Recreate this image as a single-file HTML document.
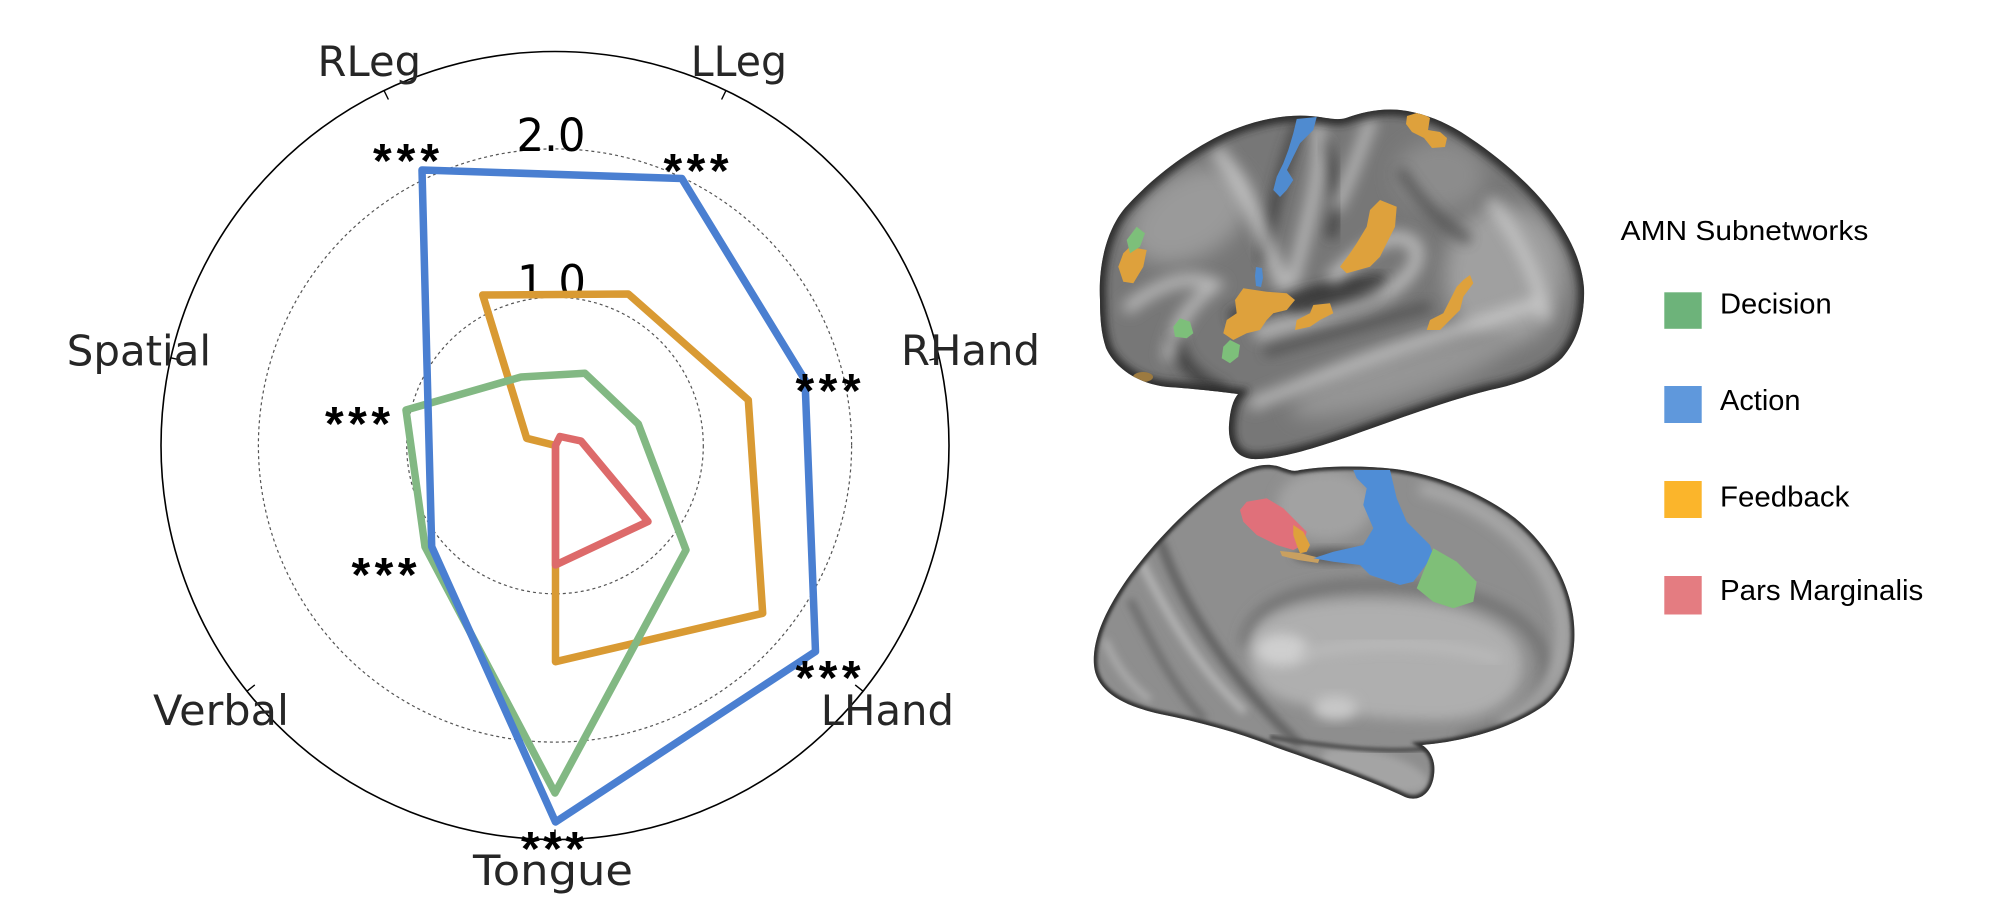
<!DOCTYPE html>
<html>
<head>
<meta charset="utf-8">
<style>
  html,body{margin:0;padding:0;background:#fff;}
  body{width:2000px;height:915px;overflow:hidden;}
  svg{display:block;}
</style>
</head>
<body>
<svg width="2000" height="915" viewBox="0 0 2000 915" xmlns="http://www.w3.org/2000/svg">
<defs>
  <filter id="b2" x="-20%" y="-20%" width="140%" height="140%"><feGaussianBlur stdDeviation="1.5"/></filter>
  <filter id="b4" x="-30%" y="-30%" width="160%" height="160%"><feGaussianBlur stdDeviation="4"/></filter>
  <filter id="b6" x="-30%" y="-30%" width="160%" height="160%"><feGaussianBlur stdDeviation="6"/></filter>
  <filter id="b8" x="-30%" y="-30%" width="160%" height="160%"><feGaussianBlur stdDeviation="7"/></filter>
  <filter id="b10" x="-30%" y="-30%" width="160%" height="160%"><feGaussianBlur stdDeviation="10"/></filter>
  <clipPath id="cu">
    <path d="M1100,300 C1098,262 1108,228 1125,208 C1150,180 1185,152 1225,133 C1255,120 1285,114 1310,116 C1325,117 1336,121 1346,118 C1362,112 1382,108 1400,110 C1426,113 1450,124 1470,138 C1500,158 1530,184 1550,210 C1570,236 1582,262 1584,288 C1585,315 1578,340 1562,358 C1545,375 1515,385 1490,390 C1450,400 1400,418 1350,436 C1310,450 1275,460 1252,459 C1234,457 1228,442 1229,425 C1230,410 1233,400 1238,394 C1222,392 1198,389 1168,387 C1138,384 1115,368 1106,348 C1101,333 1100,318 1100,300 Z"/>
  </clipPath>
  <clipPath id="cl">
    <path d="M1283,468 C1270,462 1252,465 1235,475 C1200,495 1160,535 1130,575 C1105,610 1092,640 1094,665 C1096,690 1120,705 1160,714 C1200,722 1240,733 1275,747 C1320,763 1370,780 1405,797 C1420,803 1432,792 1434,775 C1436,760 1430,750 1422,745 C1460,742 1510,730 1545,705 C1570,685 1578,650 1573,615 C1568,580 1548,545 1515,518 C1485,495 1440,475 1395,469 C1360,465 1325,466 1300,470 C1293,472 1290,470 1283,468 Z"/>
  </clipPath>
</defs>

<rect x="0" y="0" width="2000" height="915" fill="#ffffff"/>

<!-- ================= RADAR CHART ================= -->
<g fill="none">
  <circle cx="555" cy="445.5" r="148.3" stroke="#555" stroke-width="1.2" stroke-dasharray="3,3"/>
  <circle cx="555" cy="445.5" r="296.6" stroke="#555" stroke-width="1.2" stroke-dasharray="3,3"/>
  <circle cx="555" cy="445.5" r="394" stroke="#000" stroke-width="1.6"/>
  <g stroke="#000" stroke-width="1.4">
    <line x1="555" y1="839.5" x2="555" y2="829.5"/>
    <line x1="863.0" y1="691.2" x2="855.2" y2="684.9"/>
    <line x1="939.1" y1="357.8" x2="929.4" y2="360.1"/>
    <line x1="726.0" y1="90.5" x2="721.6" y2="99.5"/>
    <line x1="384.0" y1="90.5" x2="388.4" y2="99.5"/>
    <line x1="170.9" y1="357.8" x2="180.6" y2="360.1"/>
    <line x1="247.0" y1="691.2" x2="254.8" y2="684.9"/>
  </g>
</g>

<g font-family="'DejaVu Sans', 'Liberation Sans', sans-serif" font-size="45" fill="#000" text-anchor="middle">
  <text x="551" y="151" textLength="69" lengthAdjust="spacingAndGlyphs">2.0</text>
  <text x="551.5" y="297.5" textLength="69" lengthAdjust="spacingAndGlyphs">1.0</text>
</g>

<g fill="none" stroke-width="7.5" stroke-linejoin="round" stroke-linecap="round">
  <polygon points="482.7,295 628.3,294 748.3,400 762.7,613.3 555.5,661.7 555.5,445.5 526.7,438.3" stroke="#d99a33"/>
  <polygon points="521,377 585,373.3 638.3,424 686,550 555,793 425,546.7 406,410" stroke="#82b883"/>
  <polygon points="555.5,445.5 560,436.5 581,441 648,521.5 555.5,565" stroke="#dd6a6a"/>
  <polygon points="422,170 681.8,178.5 805,380 815.5,651.5 555.5,822 431.7,546.7 428.3,416.6" stroke="#4a7fd1"/>
</g>

<g font-family="'Liberation Sans', Arial, sans-serif" font-size="48" font-weight="bold" fill="#000" text-anchor="middle">
  <text x="406" y="177" textLength="66" lengthAdjust="spacing">***</text>
  <text x="696" y="187" textLength="65" lengthAdjust="spacing">***</text>
  <text x="828" y="407" textLength="65" lengthAdjust="spacing">***</text>
  <text x="828" y="694" textLength="65" lengthAdjust="spacing">***</text>
  <text x="552.5" y="865" textLength="63" lengthAdjust="spacing">***</text>
  <text x="357.5" y="440" textLength="65" lengthAdjust="spacing">***</text>
  <text x="384" y="591" textLength="65" lengthAdjust="spacing">***</text>
</g>

<g font-family="'DejaVu Sans', 'Liberation Sans', sans-serif" font-size="42" fill="#262626" text-anchor="middle">
  <text x="369.3" y="76" textLength="103.5" lengthAdjust="spacingAndGlyphs">RLeg</text>
  <text x="738.9" y="76" textLength="96.3" lengthAdjust="spacingAndGlyphs">LLeg</text>
  <text x="970.5" y="365" textLength="139" lengthAdjust="spacingAndGlyphs">RHand</text>
  <text x="887.4" y="725" textLength="133.2" lengthAdjust="spacingAndGlyphs">LHand</text>
  <text x="138.9" y="365.7" textLength="144.3" lengthAdjust="spacingAndGlyphs">Spatial</text>
  <text x="221" y="725" textLength="136" lengthAdjust="spacingAndGlyphs">Verbal</text>
  <text x="553" y="885" textLength="160" lengthAdjust="spacingAndGlyphs">Tongue</text>
</g>

<!-- ================= UPPER BRAIN (lateral) ================= -->
<g clip-path="url(#cu)">
  <rect x="1090" y="100" width="500" height="370" fill="#777777"/>
  <!-- broad light regions -->
  <ellipse cx="1190" cy="215" rx="65" ry="42" transform="rotate(-30 1190 215)" fill="#9a9a9a" filter="url(#b10)"/>
  <ellipse cx="1505" cy="275" rx="60" ry="70" fill="#a0a0a0" filter="url(#b10)"/>
  <ellipse cx="1400" cy="375" rx="115" ry="24" transform="rotate(-18 1400 375)" fill="#959595" filter="url(#b10)"/>
  <ellipse cx="1440" cy="175" rx="45" ry="35" fill="#8c8c8c" filter="url(#b10)"/>
  <!-- dark sulci -->
  <path d="M1230,318 C1270,305 1320,292 1385,280" stroke="#333" stroke-width="14" fill="none" filter="url(#b6)" opacity="0.85"/>
  <ellipse cx="1335" cy="300" rx="48" ry="14" transform="rotate(-10 1335 300)" fill="#3a3a3a" filter="url(#b6)"/>
  <path d="M1300,122 C1285,160 1275,200 1262,262" stroke="#3c3c3c" stroke-width="12" fill="none" filter="url(#b6)" opacity="0.8"/>
  <path d="M1322,140 C1340,180 1338,215 1330,238" stroke="#3c3c3c" stroke-width="12" fill="none" filter="url(#b6)" opacity="0.8"/>
  <path d="M1175,335 C1178,360 1195,380 1225,392" stroke="#3a3a3a" stroke-width="14" fill="none" filter="url(#b6)" opacity="0.85"/>
  <path d="M1265,352 C1320,337 1380,320 1430,306" stroke="#4c4c4c" stroke-width="10" fill="none" filter="url(#b6)" opacity="0.8"/>
  <path d="M1400,170 C1420,200 1440,225 1470,240" stroke="#4e4e4e" stroke-width="10" fill="none" filter="url(#b6)" opacity="0.8"/>
  <!-- light ridges -->
  <g stroke="#d8d8d8" fill="none" filter="url(#b8)" opacity="0.7">
    <path d="M1215,150 C1240,175 1262,230 1285,290" stroke-width="14"/>
    <path d="M1318,125 C1325,170 1305,230 1292,285" stroke-width="12"/>
    <path d="M1330,280 C1360,250 1395,225 1415,245 C1425,265 1400,290 1360,305 C1320,318 1280,325 1255,335" stroke-width="13"/>
    <path d="M1250,405 C1300,385 1380,352 1450,332 C1490,320 1520,308 1545,302" stroke-width="12"/>
    <path d="M1125,310 C1150,290 1185,270 1215,285 C1195,300 1175,320 1168,360" stroke-width="12"/>
    <path d="M1372,118 C1360,150 1350,180 1335,210" stroke-width="11"/>
    <path d="M1490,200 C1520,240 1540,280 1545,320" stroke-width="11"/>
  </g>
  <!-- rim darkening -->
  <path d="M1100,300 C1098,262 1108,228 1125,208 C1150,180 1185,152 1225,133 C1255,120 1285,114 1310,116 C1325,117 1336,121 1346,118 C1362,112 1382,108 1400,110 C1426,113 1450,124 1470,138 C1500,158 1530,184 1550,210 C1570,236 1582,262 1584,288 C1585,315 1578,340 1562,358 C1545,375 1515,385 1490,390 C1450,400 1400,418 1350,436 C1310,450 1275,460 1252,459 C1234,457 1228,442 1229,425 C1230,410 1233,400 1238,394 C1222,392 1198,389 1168,387 C1138,384 1115,368 1106,348 C1101,333 1100,318 1100,300 Z" fill="none" stroke="#2a2a2a" stroke-width="12" filter="url(#b4)"/>

  <!-- colored patches -->
  <g fill="#dea13c">
    <polygon points="1407,116 1420,112 1430,118 1428,130 1440,132 1447,138 1445,147 1432,148 1424,138 1412,132 1406,124"/>
    <polygon points="1380,200 1396.7,206.7 1395,226.7 1386.7,243.3 1380,256.7 1370,266.7 1346.7,273.3 1340,266.7 1350,253.3 1356.7,243.3 1366.7,226.7 1370,210"/>
    <polygon points="1243.3,288.3 1266.7,291.7 1286.7,293.3 1295,300 1286.7,310 1273.3,313.3 1266.7,320 1260,330 1246.7,333.3 1233.3,340 1223.3,333.3 1226.7,320 1236.7,313.3 1235,300"/>
    <polygon points="1313.3,305 1330,303.3 1333.3,313.3 1320,320 1310,326.7 1295,330 1296.7,320 1310,313.3"/>
    <polygon points="1470,275 1473.3,283.3 1463.3,296.7 1460,310 1450,320 1440,330 1426.7,330 1430,320 1443.3,313.3 1450,300 1456.7,286.7 1463.3,280"/>
    <polygon points="1130,246.7 1146.7,250 1143.3,266.7 1133.3,283.3 1123.3,281.7 1118.3,266.7 1123.3,253.3"/>
  </g>
  <ellipse cx="1143" cy="377" rx="10" ry="5" fill="#9c7a40"/>
  <g fill="#4f8bd0">
    <polygon points="1296.7,119 1316.7,117 1313.3,130 1300,143.3 1293.3,156.7 1287,170 1293.3,180 1286.7,190 1280,197 1273.3,190 1276.7,176.7 1283.3,163.3 1288.3,150 1293.3,133.3"/>
    <polygon points="1256,267 1262,268 1263,278 1261,287 1256,286 1255,276"/>
  </g>
  <g fill="#7dbf7a">
    <polygon points="1136.7,226.7 1145,233.3 1140,246.7 1130,253.3 1126.7,240"/>
    <polygon points="1180,318.3 1190,321.7 1193.3,333.3 1186.7,338.3 1175,336.7 1173.3,326.7"/>
    <polygon points="1230,340 1240,345 1238.3,356.7 1230,363.3 1221.7,358.3 1223.3,346.7"/>
  </g>
</g>

<!-- ================= LOWER BRAIN (medial) ================= -->
<g clip-path="url(#cl)">
  <rect x="1085" y="455" width="500" height="360" fill="#8e8e8e"/>
  <!-- top bump (paracentral) -->
  <ellipse cx="1325" cy="505" rx="48" ry="35" fill="#a2a2a2" filter="url(#b6)"/>
  <ellipse cx="1335" cy="556" rx="42" ry="8" fill="#5e5e5e" filter="url(#b4)"/>
  <!-- cingulate groove -->
  <path d="M1245,645 C1250,600 1310,582 1390,585 C1470,588 1535,612 1545,660 C1550,700 1515,730 1460,738" stroke="#6e6e6e" stroke-width="10" fill="none" filter="url(#b6)"/>
  <!-- inner light region -->
  <path d="M1250,642 C1255,612 1305,598 1382,600 C1460,603 1518,622 1522,660 C1525,698 1490,718 1440,720 C1380,720 1322,712 1285,700 C1258,690 1246,668 1250,642 Z" fill="#afafaf" filter="url(#b6)"/>
  <ellipse cx="1282" cy="650" rx="26" ry="16" fill="#cfcfcf" filter="url(#b6)"/>
  <ellipse cx="1335" cy="708" rx="22" ry="12" fill="#c8c8c8" filter="url(#b6)"/>
  <path d="M1300,655 C1360,640 1440,640 1500,660" stroke="#bdbdbd" stroke-width="8" fill="none" filter="url(#b6)"/>
  <!-- outer rim highlight on right -->
  <path d="M1420,488 C1490,505 1545,550 1560,610 C1570,660 1550,700 1500,725" stroke="#b0b0b0" stroke-width="10" fill="none" filter="url(#b6)"/>
  <!-- occipital folds -->
  <path d="M1160,540 C1180,600 1230,680 1300,745" stroke="#606060" stroke-width="9" fill="none" filter="url(#b4)"/>
  <path d="M1130,600 C1150,640 1175,690 1205,720" stroke="#6a6a6a" stroke-width="7" fill="none" filter="url(#b4)"/>
  <path d="M1140,560 C1170,620 1200,670 1245,712" stroke="#b8b8b8" stroke-width="7" fill="none" filter="url(#b4)"/>
  <path d="M1105,640 C1115,665 1130,685 1150,700" stroke="#b0b0b0" stroke-width="6" fill="none" filter="url(#b4)"/>
  <!-- bottom lobe -->
  <ellipse cx="1375" cy="770" rx="55" ry="18" transform="rotate(15 1375 770)" fill="#a4a4a4" filter="url(#b4)"/>
  <path d="M1270,737 C1330,747 1390,754 1428,748" stroke="#555" stroke-width="5" fill="none" filter="url(#b2)"/>
  <!-- rim -->
  <path d="M1283,468 C1270,462 1252,465 1235,475 C1200,495 1160,535 1130,575 C1105,610 1092,640 1094,665 C1096,690 1120,705 1160,714 C1200,722 1240,733 1275,747 C1320,763 1370,780 1405,797 C1420,803 1432,792 1434,775 C1436,760 1430,750 1422,745 C1460,742 1510,730 1545,705 C1570,685 1578,650 1573,615 C1568,580 1548,545 1515,518 C1485,495 1440,475 1395,469 C1360,465 1325,466 1300,470 C1293,472 1290,470 1283,468 Z" fill="none" stroke="#303030" stroke-width="7" filter="url(#b2)"/>

  <!-- colored patches -->
  <polygon points="1246.7,501.7 1266.7,498.3 1283.3,508.3 1296.7,521.7 1306.7,531.7 1303.3,545 1293.3,550 1276.7,545 1256.7,535 1243.3,521.7 1240,510" fill="#e0707a"/>
  <polygon points="1293.3,525 1303.3,531.7 1310,545 1306.7,551.7 1300,553.3 1296.7,545 1293.3,535" fill="#dea13c"/>
  <polygon points="1280,551 1300,553 1320,558 1318,563 1298,560 1282,556" fill="#c9a060"/>
  <polygon points="1353.3,470 1390,470 1396.7,498.3 1406.7,521.7 1430,545 1433.3,555 1413.3,581.7 1400,585 1370,575 1360,565 1333.3,561.7 1313.3,558.3 1333.3,551.7 1363.3,545 1373.3,528.3 1363.3,505 1366.7,488.3 1356.7,478.3" fill="#4f8dd6"/>
  <polygon points="1433.3,548.3 1456.7,561.7 1476.7,581.7 1473.3,601.7 1453.3,608.3 1433.3,601.7 1416.7,588.3 1423.3,571.7" fill="#7fbf78"/>
</g>

<!-- ================= LEGEND ================= -->
<g font-family="'Liberation Sans', Arial, sans-serif" fill="#000">
  <text x="1620.7" y="240" font-size="28" textLength="247.6" lengthAdjust="spacingAndGlyphs">AMN Subnetworks</text>
  <rect x="1664.3" y="292.3" width="37.4" height="36.5" fill="#6db37a"/>
  <rect x="1664.3" y="386" width="37.4" height="37" fill="#5f98dc"/>
  <rect x="1664.3" y="481" width="37.4" height="37" fill="#fbb52b"/>
  <rect x="1664.3" y="576" width="37.4" height="38.5" fill="#e47c81"/>
  <text x="1720" y="313.3" font-size="29" textLength="111.7" lengthAdjust="spacingAndGlyphs">Decision</text>
  <text x="1720" y="410" font-size="29" textLength="80.5" lengthAdjust="spacingAndGlyphs">Action</text>
  <text x="1720" y="506.7" font-size="29" textLength="129.3" lengthAdjust="spacingAndGlyphs">Feedback</text>
  <text x="1720" y="600" font-size="29" textLength="203.3" lengthAdjust="spacingAndGlyphs">Pars Marginalis</text>
</g>
</svg>
</body>
</html>
